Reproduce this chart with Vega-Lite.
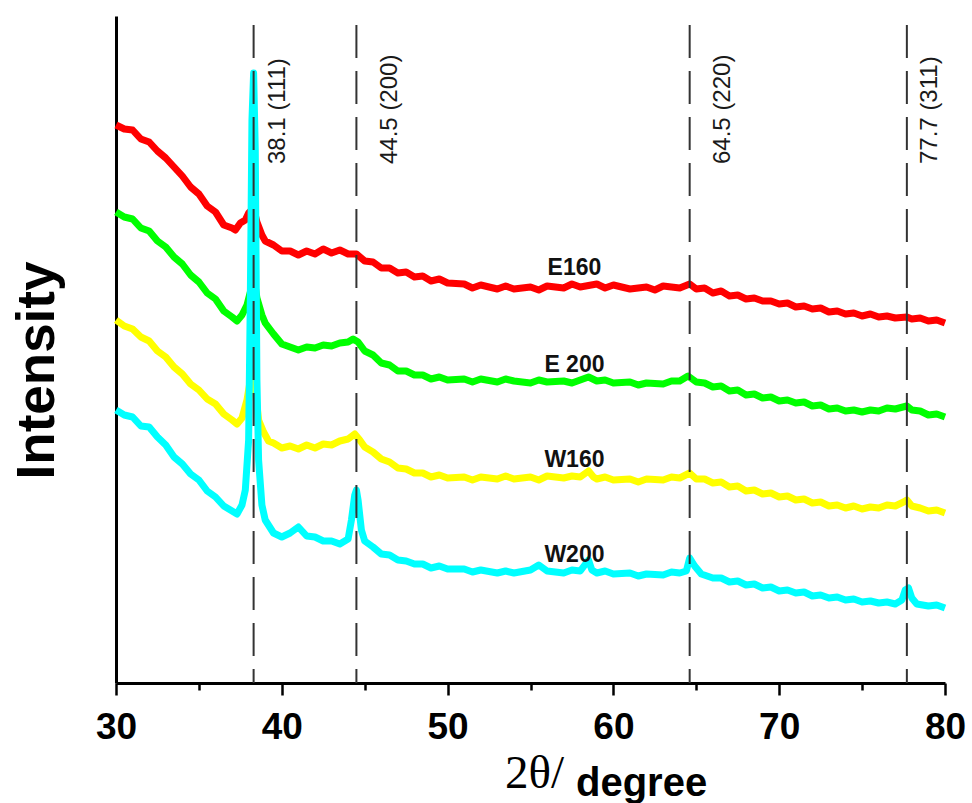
{
  "$schema": "https://vega.github.io/schema/vega-lite/v6.json",
  "width": 829,
  "height": 667,
  "autosize": "none",
  "padding": {"left": 116, "top": 16, "right": 27, "bottom": 120},
  "background": "white",
  "config": {"view": {"stroke": null}},
  "title": {"text": "degree", "orient": "bottom", "anchor": "start", "frame": "group", "dx": 460, "offset": 0, "baseline": "alphabetic", "font": "Liberation Sans", "fontSize": 40, "fontWeight": "bold", "color": "#000000"},
  "datasets": {
    "xrd": [
      {"s":"E160","t":30,"i":558},{"s":"E160","t":30.5,"i":554},{"s":"E160","t":31,"i":553},{"s":"E160","t":31.5,"i":544},{"s":"E160","t":32,"i":541},{"s":"E160","t":32.5,"i":532},{"s":"E160","t":33,"i":525},{"s":"E160","t":33.5,"i":516},{"s":"E160","t":34,"i":507},{"s":"E160","t":34.5,"i":496},{"s":"E160","t":35,"i":489},{"s":"E160","t":35.5,"i":477},{"s":"E160","t":36,"i":471},{"s":"E160","t":36.5,"i":458},{"s":"E160","t":37,"i":455},{"s":"E160","t":37.2,"i":453},{"s":"E160","t":37.5,"i":460},{"s":"E160","t":37.8,"i":463},{"s":"E160","t":38,"i":470},{"s":"E160","t":38.3,"i":475},{"s":"E160","t":38.5,"i":461},{"s":"E160","t":38.8,"i":448},{"s":"E160","t":39,"i":442},{"s":"E160","t":39.5,"i":438},{"s":"E160","t":40,"i":432},{"s":"E160","t":40.5,"i":432},{"s":"E160","t":41,"i":428},{"s":"E160","t":41.5,"i":432},{"s":"E160","t":42,"i":429},{"s":"E160","t":42.5,"i":434},{"s":"E160","t":43,"i":430},{"s":"E160","t":43.5,"i":433},{"s":"E160","t":44,"i":429},{"s":"E160","t":44.5,"i":429},{"s":"E160","t":45,"i":422},{"s":"E160","t":45.5,"i":421},{"s":"E160","t":46,"i":415},{"s":"E160","t":46.5,"i":415},{"s":"E160","t":47,"i":410},{"s":"E160","t":47.5,"i":411},{"s":"E160","t":48,"i":406},{"s":"E160","t":48.5,"i":407},{"s":"E160","t":49,"i":402},{"s":"E160","t":49.5,"i":404},{"s":"E160","t":50,"i":400},{"s":"E160","t":51,"i":399},{"s":"E160","t":51.5,"i":395},{"s":"E160","t":52,"i":398},{"s":"E160","t":53,"i":394},{"s":"E160","t":53.5,"i":397},{"s":"E160","t":54,"i":394},{"s":"E160","t":55,"i":396},{"s":"E160","t":55.5,"i":393},{"s":"E160","t":56,"i":397},{"s":"E160","t":57,"i":395},{"s":"E160","t":57.5,"i":399},{"s":"E160","t":58,"i":396},{"s":"E160","t":59,"i":399},{"s":"E160","t":59.5,"i":395},{"s":"E160","t":60,"i":398},{"s":"E160","t":61,"i":394},{"s":"E160","t":62,"i":396},{"s":"E160","t":62.5,"i":393},{"s":"E160","t":63,"i":397},{"s":"E160","t":64,"i":395},{"s":"E160","t":64.6,"i":399},{"s":"E160","t":65,"i":394},{"s":"E160","t":65.5,"i":395},{"s":"E160","t":66,"i":390},{"s":"E160","t":66.5,"i":392},{"s":"E160","t":67,"i":387},{"s":"E160","t":67.5,"i":388},{"s":"E160","t":68,"i":384},{"s":"E160","t":68.5,"i":385},{"s":"E160","t":69,"i":382},{"s":"E160","t":69.5,"i":382},{"s":"E160","t":70,"i":379},{"s":"E160","t":70.5,"i":380},{"s":"E160","t":71,"i":376},{"s":"E160","t":71.5,"i":377},{"s":"E160","t":72,"i":374},{"s":"E160","t":72.5,"i":375},{"s":"E160","t":73,"i":371},{"s":"E160","t":73.5,"i":372},{"s":"E160","t":74,"i":369},{"s":"E160","t":74.5,"i":370},{"s":"E160","t":75,"i":367},{"s":"E160","t":75.5,"i":369},{"s":"E160","t":76,"i":366},{"s":"E160","t":76.5,"i":367},{"s":"E160","t":77,"i":365},{"s":"E160","t":77.7,"i":366},{"s":"E160","t":78,"i":364},{"s":"E160","t":78.5,"i":365},{"s":"E160","t":79,"i":362},{"s":"E160","t":79.5,"i":363},{"s":"E160","t":80,"i":360},
      {"s":"E200","t":30,"i":471},{"s":"E200","t":30.5,"i":466},{"s":"E200","t":31,"i":464},{"s":"E200","t":31.5,"i":455},{"s":"E200","t":32,"i":452},{"s":"E200","t":32.5,"i":442},{"s":"E200","t":33,"i":436},{"s":"E200","t":33.5,"i":426},{"s":"E200","t":34,"i":419},{"s":"E200","t":34.5,"i":408},{"s":"E200","t":35,"i":401},{"s":"E200","t":35.5,"i":390},{"s":"E200","t":36,"i":384},{"s":"E200","t":36.5,"i":372},{"s":"E200","t":37,"i":366},{"s":"E200","t":37.3,"i":362},{"s":"E200","t":37.6,"i":368},{"s":"E200","t":37.9,"i":378},{"s":"E200","t":38.1,"i":391},{"s":"E200","t":38.3,"i":407},{"s":"E200","t":38.5,"i":385},{"s":"E200","t":38.8,"i":368},{"s":"E200","t":39,"i":360},{"s":"E200","t":39.5,"i":349},{"s":"E200","t":40,"i":339},{"s":"E200","t":40.5,"i":336},{"s":"E200","t":41,"i":333},{"s":"E200","t":41.5,"i":336},{"s":"E200","t":42,"i":335},{"s":"E200","t":42.5,"i":338},{"s":"E200","t":43,"i":337},{"s":"E200","t":43.5,"i":340},{"s":"E200","t":44,"i":341},{"s":"E200","t":44.3,"i":344},{"s":"E200","t":44.6,"i":341},{"s":"E200","t":45,"i":332},{"s":"E200","t":45.5,"i":328},{"s":"E200","t":46,"i":320},{"s":"E200","t":46.5,"i":318},{"s":"E200","t":47,"i":312},{"s":"E200","t":47.5,"i":312},{"s":"E200","t":48,"i":308},{"s":"E200","t":48.5,"i":308},{"s":"E200","t":49,"i":304},{"s":"E200","t":49.5,"i":306},{"s":"E200","t":50,"i":303},{"s":"E200","t":51,"i":304},{"s":"E200","t":51.5,"i":301},{"s":"E200","t":52,"i":304},{"s":"E200","t":53,"i":301},{"s":"E200","t":53.5,"i":304},{"s":"E200","t":54,"i":302},{"s":"E200","t":55,"i":300},{"s":"E200","t":55.5,"i":303},{"s":"E200","t":56,"i":301},{"s":"E200","t":57,"i":302},{"s":"E200","t":57.5,"i":300},{"s":"E200","t":58,"i":303},{"s":"E200","t":58.5,"i":306},{"s":"E200","t":59,"i":302},{"s":"E200","t":59.5,"i":303},{"s":"E200","t":60,"i":300},{"s":"E200","t":61,"i":301},{"s":"E200","t":61.5,"i":298},{"s":"E200","t":62,"i":300},{"s":"E200","t":63,"i":299},{"s":"E200","t":63.5,"i":302},{"s":"E200","t":64,"i":302},{"s":"E200","t":64.5,"i":307},{"s":"E200","t":65,"i":301},{"s":"E200","t":65.5,"i":300},{"s":"E200","t":66,"i":296},{"s":"E200","t":66.5,"i":297},{"s":"E200","t":67,"i":292},{"s":"E200","t":67.5,"i":293},{"s":"E200","t":68,"i":288},{"s":"E200","t":68.5,"i":289},{"s":"E200","t":69,"i":285},{"s":"E200","t":69.5,"i":286},{"s":"E200","t":70,"i":282},{"s":"E200","t":70.5,"i":283},{"s":"E200","t":71,"i":280},{"s":"E200","t":71.5,"i":281},{"s":"E200","t":72,"i":277},{"s":"E200","t":72.5,"i":278},{"s":"E200","t":73,"i":274},{"s":"E200","t":73.5,"i":275},{"s":"E200","t":74,"i":272},{"s":"E200","t":74.5,"i":273},{"s":"E200","t":75,"i":271},{"s":"E200","t":75.5,"i":273},{"s":"E200","t":76,"i":272},{"s":"E200","t":76.5,"i":275},{"s":"E200","t":77,"i":274},{"s":"E200","t":77.7,"i":277},{"s":"E200","t":78,"i":273},{"s":"E200","t":78.5,"i":272},{"s":"E200","t":79,"i":268},{"s":"E200","t":79.5,"i":269},{"s":"E200","t":80,"i":266},
      {"s":"W160","t":30,"i":363},{"s":"W160","t":30.5,"i":357},{"s":"W160","t":31,"i":354},{"s":"W160","t":31.5,"i":346},{"s":"W160","t":32,"i":342},{"s":"W160","t":32.5,"i":332},{"s":"W160","t":33,"i":326},{"s":"W160","t":33.5,"i":316},{"s":"W160","t":34,"i":309},{"s":"W160","t":34.5,"i":299},{"s":"W160","t":35,"i":293},{"s":"W160","t":35.5,"i":284},{"s":"W160","t":36,"i":279},{"s":"W160","t":36.5,"i":269},{"s":"W160","t":37,"i":263},{"s":"W160","t":37.3,"i":259},{"s":"W160","t":37.6,"i":265},{"s":"W160","t":37.9,"i":283},{"s":"W160","t":38.1,"i":303},{"s":"W160","t":38.25,"i":326},{"s":"W160","t":38.4,"i":293},{"s":"W160","t":38.6,"i":263},{"s":"W160","t":38.9,"i":251},{"s":"W160","t":39.2,"i":242},{"s":"W160","t":39.5,"i":240},{"s":"W160","t":40,"i":235},{"s":"W160","t":40.5,"i":237},{"s":"W160","t":41,"i":234},{"s":"W160","t":41.5,"i":238},{"s":"W160","t":42,"i":235},{"s":"W160","t":42.5,"i":239},{"s":"W160","t":43,"i":238},{"s":"W160","t":43.5,"i":242},{"s":"W160","t":44,"i":244},{"s":"W160","t":44.4,"i":249},{"s":"W160","t":44.7,"i":243},{"s":"W160","t":45,"i":236},{"s":"W160","t":45.5,"i":231},{"s":"W160","t":46,"i":224},{"s":"W160","t":46.5,"i":221},{"s":"W160","t":47,"i":215},{"s":"W160","t":47.5,"i":214},{"s":"W160","t":48,"i":210},{"s":"W160","t":48.5,"i":210},{"s":"W160","t":49,"i":206},{"s":"W160","t":49.5,"i":208},{"s":"W160","t":50,"i":205},{"s":"W160","t":51,"i":206},{"s":"W160","t":51.5,"i":203},{"s":"W160","t":52,"i":206},{"s":"W160","t":53,"i":204},{"s":"W160","t":53.5,"i":207},{"s":"W160","t":54,"i":204},{"s":"W160","t":55,"i":206},{"s":"W160","t":55.5,"i":203},{"s":"W160","t":56,"i":207},{"s":"W160","t":57,"i":205},{"s":"W160","t":57.5,"i":207},{"s":"W160","t":58,"i":206},{"s":"W160","t":58.5,"i":212},{"s":"W160","t":58.8,"i":206},{"s":"W160","t":59,"i":204},{"s":"W160","t":59.5,"i":206},{"s":"W160","t":60,"i":203},{"s":"W160","t":61,"i":204},{"s":"W160","t":61.5,"i":201},{"s":"W160","t":62,"i":204},{"s":"W160","t":63,"i":203},{"s":"W160","t":63.5,"i":206},{"s":"W160","t":64,"i":205},{"s":"W160","t":64.6,"i":210},{"s":"W160","t":65,"i":204},{"s":"W160","t":65.5,"i":204},{"s":"W160","t":66,"i":200},{"s":"W160","t":66.5,"i":201},{"s":"W160","t":67,"i":196},{"s":"W160","t":67.5,"i":197},{"s":"W160","t":68,"i":192},{"s":"W160","t":68.5,"i":193},{"s":"W160","t":69,"i":189},{"s":"W160","t":69.5,"i":190},{"s":"W160","t":70,"i":186},{"s":"W160","t":70.5,"i":187},{"s":"W160","t":71,"i":183},{"s":"W160","t":71.5,"i":184},{"s":"W160","t":72,"i":180},{"s":"W160","t":72.5,"i":181},{"s":"W160","t":73,"i":177},{"s":"W160","t":73.5,"i":178},{"s":"W160","t":74,"i":175},{"s":"W160","t":74.5,"i":177},{"s":"W160","t":75,"i":174},{"s":"W160","t":75.5,"i":176},{"s":"W160","t":76,"i":175},{"s":"W160","t":76.5,"i":178},{"s":"W160","t":77,"i":177},{"s":"W160","t":77.5,"i":181},{"s":"W160","t":77.7,"i":183},{"s":"W160","t":78,"i":177},{"s":"W160","t":78.5,"i":175},{"s":"W160","t":79,"i":172},{"s":"W160","t":79.5,"i":173},{"s":"W160","t":80,"i":170},
      {"s":"W200","t":30,"i":273},{"s":"W200","t":30.5,"i":268},{"s":"W200","t":31,"i":266},{"s":"W200","t":31.5,"i":257},{"s":"W200","t":32,"i":256},{"s":"W200","t":32.5,"i":246},{"s":"W200","t":33,"i":238},{"s":"W200","t":33.5,"i":226},{"s":"W200","t":34,"i":219},{"s":"W200","t":34.5,"i":209},{"s":"W200","t":35,"i":203},{"s":"W200","t":35.5,"i":192},{"s":"W200","t":36,"i":186},{"s":"W200","t":36.5,"i":177},{"s":"W200","t":37,"i":172},{"s":"W200","t":37.3,"i":169},{"s":"W200","t":37.6,"i":178},{"s":"W200","t":37.8,"i":193},{"s":"W200","t":38,"i":243},{"s":"W200","t":38.1,"i":383},{"s":"W200","t":38.2,"i":563},{"s":"W200","t":38.3,"i":610},{"s":"W200","t":38.4,"i":533},{"s":"W200","t":38.5,"i":303},{"s":"W200","t":38.6,"i":223},{"s":"W200","t":38.8,"i":178},{"s":"W200","t":39,"i":163},{"s":"W200","t":39.5,"i":150},{"s":"W200","t":40,"i":146},{"s":"W200","t":40.5,"i":150},{"s":"W200","t":41,"i":156},{"s":"W200","t":41.5,"i":147},{"s":"W200","t":42,"i":146},{"s":"W200","t":42.5,"i":142},{"s":"W200","t":43,"i":142},{"s":"W200","t":43.5,"i":139},{"s":"W200","t":44,"i":144},{"s":"W200","t":44.2,"i":163},{"s":"W200","t":44.4,"i":188},{"s":"W200","t":44.5,"i":193},{"s":"W200","t":44.6,"i":183},{"s":"W200","t":44.8,"i":153},{"s":"W200","t":45,"i":142},{"s":"W200","t":45.5,"i":136},{"s":"W200","t":46,"i":129},{"s":"W200","t":46.5,"i":128},{"s":"W200","t":47,"i":123},{"s":"W200","t":47.5,"i":122},{"s":"W200","t":48,"i":119},{"s":"W200","t":48.5,"i":119},{"s":"W200","t":49,"i":115},{"s":"W200","t":49.5,"i":117},{"s":"W200","t":50,"i":114},{"s":"W200","t":51,"i":114},{"s":"W200","t":51.5,"i":111},{"s":"W200","t":52,"i":113},{"s":"W200","t":53,"i":110},{"s":"W200","t":53.5,"i":112},{"s":"W200","t":54,"i":110},{"s":"W200","t":55,"i":113},{"s":"W200","t":55.5,"i":118},{"s":"W200","t":56,"i":112},{"s":"W200","t":57,"i":110},{"s":"W200","t":57.5,"i":113},{"s":"W200","t":58,"i":112},{"s":"W200","t":58.5,"i":123},{"s":"W200","t":58.7,"i":113},{"s":"W200","t":59,"i":110},{"s":"W200","t":59.5,"i":112},{"s":"W200","t":60,"i":109},{"s":"W200","t":61,"i":110},{"s":"W200","t":61.5,"i":107},{"s":"W200","t":62,"i":109},{"s":"W200","t":63,"i":108},{"s":"W200","t":63.5,"i":111},{"s":"W200","t":64,"i":110},{"s":"W200","t":64.4,"i":112},{"s":"W200","t":64.6,"i":125},{"s":"W200","t":64.9,"i":117},{"s":"W200","t":65.3,"i":109},{"s":"W200","t":66,"i":105},{"s":"W200","t":66.5,"i":105},{"s":"W200","t":67,"i":101},{"s":"W200","t":67.5,"i":102},{"s":"W200","t":68,"i":98},{"s":"W200","t":68.5,"i":99},{"s":"W200","t":69,"i":95},{"s":"W200","t":69.5,"i":96},{"s":"W200","t":70,"i":92},{"s":"W200","t":70.5,"i":93},{"s":"W200","t":71,"i":90},{"s":"W200","t":71.5,"i":91},{"s":"W200","t":72,"i":87},{"s":"W200","t":72.5,"i":88},{"s":"W200","t":73,"i":85},{"s":"W200","t":73.5,"i":86},{"s":"W200","t":74,"i":83},{"s":"W200","t":74.5,"i":84},{"s":"W200","t":75,"i":81},{"s":"W200","t":75.5,"i":82},{"s":"W200","t":76,"i":80},{"s":"W200","t":76.5,"i":81},{"s":"W200","t":77,"i":79},{"s":"W200","t":77.4,"i":83},{"s":"W200","t":77.6,"i":93},{"s":"W200","t":77.8,"i":95},{"s":"W200","t":78,"i":85},{"s":"W200","t":78.3,"i":79},{"s":"W200","t":79,"i":77},{"s":"W200","t":79.5,"i":78},{"s":"W200","t":80,"i":75}
    ],
    "peaks": [
      {"pos": 38.3, "lx": 39.8, "ly": 519, "lab": "38.1 (111)"},
      {"pos": 44.5, "lx": 46.5, "ly": 519, "lab": "44.5 (200)"},
      {"pos": 64.6, "lx": 66.6, "ly": 519, "lab": "64.5 (220)"},
      {"pos": 77.7, "lx": 79.1, "ly": 519, "lab": "77.7 (311)"}
    ],
    "names": [
      {"s": "E160", "tx": 57.65, "ty": 415},
      {"s": "E 200", "tx": 57.65, "ty": 318},
      {"s": "W160", "tx": 57.65, "ty": 223},
      {"s": "W200", "tx": 57.65, "ty": 128}
    ]
  },
  "layer": [
    {
      "data": {"name": "xrd"},
      "mark": {"type": "line", "strokeWidth": 7, "strokeJoin": "round"},
      "encoding": {
        "x": {
          "field": "t", "type": "quantitative",
          "scale": {"domain": [30, 80], "nice": false, "zero": false},
          "axis": {
            "values": [30, 35, 40, 45, 50, 55, 60, 65, 70, 75, 80],
            "labelExpr": "datum.value % 10 === 0 ? datum.label : ''",
            "grid": false,
            "domainColor": "#000000", "domainWidth": 3,
            "tickColor": "#000000", "tickWidth": 2.5,
            "tickSize": {"condition": {"test": "datum.value % 10 === 0", "value": 12}, "value": 7},
            "labelFont": "Liberation Sans", "labelFontSize": 37, "labelFontWeight": "bold", "labelColor": "#000000",
            "labelPadding": 14, "labelFlush": false, "labelOverlap": false,
            "title": "2θ/",
            "titleFont": "Liberation Serif", "titleFontSize": 47, "titleFontWeight": "normal", "titleColor": "#000000",
            "titleX": 418, "titleY": 104, "titleAlign": "center", "titleBaseline": "alphabetic"
          }
        },
        "y": {
          "field": "i", "type": "quantitative",
          "scale": {"domain": [0, 667], "nice": false, "zero": false},
          "axis": {
            "ticks": false, "labels": false, "grid": false,
            "domainColor": "#000000", "domainWidth": 3,
            "title": "Intensity",
            "titleFont": "Liberation Sans", "titleFontSize": 53, "titleFontWeight": "bold", "titleColor": "#000000",
            "titleAngle": 270, "titleX": -63, "titleY": 354, "titleAlign": "center", "titleBaseline": "alphabetic"
          }
        },
        "color": {
          "field": "s", "type": "nominal",
          "scale": {"domain": ["E160", "E200", "W160", "W200"], "range": ["#ff0000", "#00ff00", "#ffff00", "#00ffff"]},
          "legend": null
        }
      }
    },
    {
      "data": {"name": "peaks"},
      "mark": {"type": "rule", "color": "#333333", "strokeWidth": 2, "strokeDash": [33, 13]},
      "encoding": {
        "x": {"field": "pos", "type": "quantitative"},
        "y": {"datum": 658},
        "y2": {"datum": 0}
      }
    },
    {
      "data": {"name": "peaks"},
      "mark": {"type": "text", "angle": 270, "align": "left", "baseline": "middle", "font": "Liberation Sans", "fontSize": 24, "color": "#1a1a1a"},
      "encoding": {
        "x": {"field": "lx", "type": "quantitative"},
        "y": {"field": "ly", "type": "quantitative"},
        "text": {"field": "lab"}
      }
    },
    {
      "data": {"name": "names"},
      "mark": {"type": "text", "align": "center", "baseline": "middle", "font": "Liberation Sans", "fontSize": 23, "fontWeight": "bold", "color": "#111111"},
      "encoding": {
        "x": {"field": "tx", "type": "quantitative"},
        "y": {"field": "ty", "type": "quantitative"},
        "text": {"field": "s"}
      }
    }
  ]
}
